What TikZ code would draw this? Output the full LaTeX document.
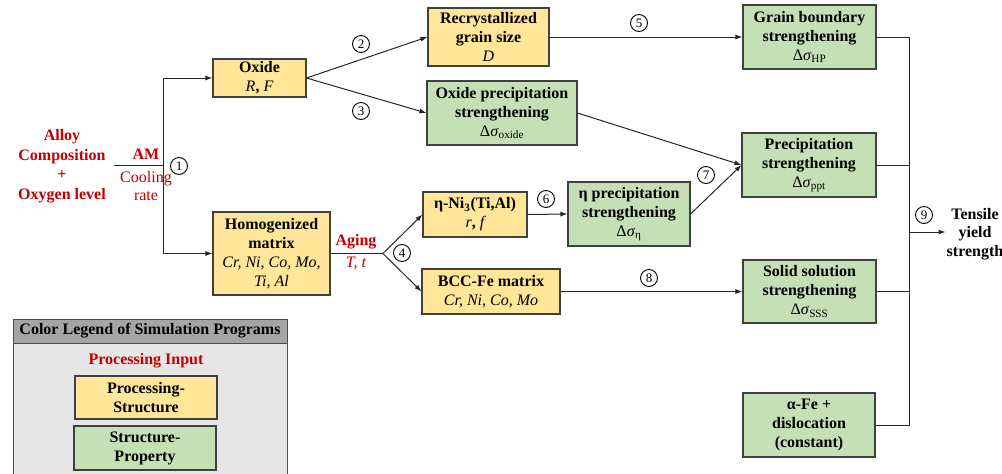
\documentclass[tikz,border=0pt]{standalone}
\usepackage{fontspec}
\setmainfont{Liberation Serif}[BoldFont={Liberation Serif Bold},ItalicFont={Liberation Serif Italic},BoldItalicFont={Liberation Serif Bold Italic}]
\usetikzlibrary{arrows.meta}
\definecolor{ybox}{HTML}{FFE699}
\definecolor{gbox}{HTML}{C5E0B4}
\definecolor{redtxt}{HTML}{C00000}
\definecolor{lghead}{HTML}{A5A5A5}
\definecolor{lgbody}{HTML}{E7E6E6}
\newcommand{\prm}[1]{{\normalfont\itshape #1}}
\newcommand{\dsig}[1]{{\normalfont Δ\textit{σ}\textsubscript{#1}}}
\begin{document}
\begin{tikzpicture}[x=1pt,y=-1pt,>={Latex[length=7pt,width=5pt]}]
	\tikzstyle{box}=[draw=black!75,line width=1.1pt,align=center,inner sep=0pt,font=\fontsize{16}{19}\selectfont\bfseries]
	\tikzstyle{ps}=[box,fill=ybox]
	\tikzstyle{sp}=[box,fill=gbox]
	\tikzstyle{txt}=[align=center,inner sep=1pt,font=\fontsize{16}{19.5}\selectfont\bfseries]
	\tikzstyle{num}=[circle,draw,line width=0.9pt,inner sep=0pt,minimum size=17pt,font=\fontsize{13}{13}\selectfont]
	\tikzstyle{conn}=[black!85,line width=1pt]
	\useasboundingbox (0,0) rectangle (1002,474);
	% legend
	\draw[draw=black!70,fill=lgbody,line width=1pt] (13,319) rectangle (287,480);
	\draw[draw=black!70,fill=lghead,line width=1pt] (13,319) rectangle (287,343);
	\node[txt] (lg_head) at (150,331) {Color Legend of Simulation Programs};
	\node[txt,text=redtxt] (lg_in) at (146,361) {Processing Input};
	\node[ps,minimum width=142pt,minimum height=43pt] (lg_ps) at (146,397.5) {Processing-\\Structure};
	\node[sp,minimum width=142pt,minimum height=44pt] (lg_sp) at (145,448) {Structure-\\Property};
	% inputs
	\node[txt,text=redtxt] (alloy) at (62,166) {Alloy\\Composition\\+\\Oxygen level};
	\node[txt,text=redtxt] (am) at (146,154) {AM};
	\node[txt,text=redtxt,font=\fontsize{16}{18}\selectfont] (cool) at (146,186) {Cooling\\rate};
	\coordinate (am_l) at (114,165);
	\coordinate (split1) at (163,165);
	% boxes
	\node[ps,minimum width=93pt,minimum height=38pt] (ox) at (259.5,78) {Oxide\\\prm{R}, \prm{F}};
	\node[ps,minimum width=117pt,minimum height=83pt] (hom) at (271.5,253.5) {Homogenized\\matrix\\\prm{Cr, Ni, Co, Mo,}\\\prm{Ti, Al}};
	\node[ps,minimum width=121pt,minimum height=58pt] (rex) at (488.5,37) {Recrystallized\\grain size\\\prm{D}};
	\node[sp,minimum width=150pt,minimum height=64pt] (oxp) at (502,113) {Oxide precipitation\\strengthening\\\dsig{oxide}};
	\node[ps,minimum width=104pt,minimum height=45pt] (eta) at (475,214.5) {η-Ni\textsubscript{3}(Ti,Al)\\\prm{r}, \prm{f}};
	\node[ps,minimum width=138pt,minimum height=45pt] (bcc) at (491,291.5) {BCC-Fe matrix\\\prm{Cr, Ni, Co, Mo}};
	\node[sp,minimum width=122pt,minimum height=64pt] (etap) at (629,214) {η precipitation\\strengthening\\\dsig{η}};
	\node[sp,minimum width=133pt,minimum height=64pt] (gb) at (809.5,37) {Grain boundary\\strengthening\\\dsig{HP}};
	\node[sp,minimum width=134pt,minimum height=64pt] (ppt) at (809,165) {Precipitation\\strengthening\\\dsig{ppt}};
	\node[sp,minimum width=133pt,minimum height=63pt] (ss) at (809.5,291.5) {Solid solution\\strengthening\\\dsig{SSS}};
	\node[sp,minimum width=132pt,minimum height=64pt] (afe) at (809,425) {α-Fe +\\dislocation\\(constant)};
	\node[txt,text=redtxt] (aging) at (356,242) {Aging};
	\node[txt,text=redtxt,font=\fontsize{16}{19}\selectfont\itshape] (agt) at (356,263) {T, t};
	\coordinate (split2) at (383,253.5);
	\coordinate (col) at (909,232);
	\node[txt,font=\fontsize{16}{18.5}\selectfont\bfseries] (tys) at (975,234) {Tensile\\yield\\strength};
	% step numbers
	\node[num] (n1) at (179,166) {1};
	\node[num] (n2) at (361,44) {2};
	\node[num] (n3) at (361,111) {3};
	\node[num] (n4) at (402,253) {4};
	\node[num] (n5) at (639,23) {5};
	\node[num] (n6) at (546,199) {6};
	\node[num] (n7) at (706,175) {7};
	\node[num] (n8) at (649,278) {8};
	\node[num] (n9) at (924,215) {9};
	% connectors
	\draw[conn] (am_l) -- (split1);
	\draw[conn,->] (split1) |- (ox.west);
	\draw[conn,->] (split1) |- (hom.west);
	\draw[conn,->] (ox.east) -- (rex.west);
	\draw[conn,->] (ox.east) -- (oxp.west);
	\draw[conn] (hom.east) -- (split2);
	\draw[conn,->] (split2) -- (eta.west);
	\draw[conn,->] (split2) -- (bcc.west);
	\draw[conn,->] (eta.east) -- (etap.west);
	\draw[conn,->] (rex.east) -- (gb.west);
	\draw[conn,->] (oxp.east) -- (ppt.west);
	\draw[conn,->] (etap.east) -- (ppt.west);
	\draw[conn,->] (bcc.east) -- (ss.west);
	\draw[conn] (gb.east) -| (col) (afe.east) -| (col)
		(ppt.east) -- (ppt.east -| col) (ss.east) -- (ss.east -| col);
	\draw[conn,->] (col) -- (tys.west |- col);
\end{tikzpicture}
\end{document}
